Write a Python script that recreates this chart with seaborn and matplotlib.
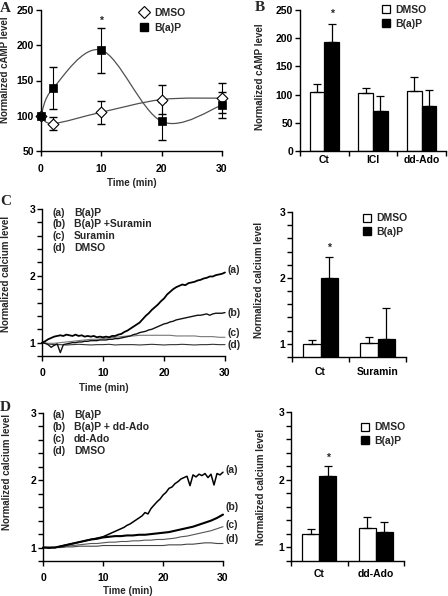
import numpy as np
import pandas as pd
import seaborn as sns
import matplotlib
matplotlib.use("Agg")
import matplotlib.pyplot as plt
from matplotlib.path import Path
from matplotlib.patches import PathPatch, Patch
from matplotlib.lines import Line2D
from matplotlib.ticker import MultipleLocator, FixedLocator, NullFormatter

# ---------------- data ----------------
# Panel A: cAMP time course
a_time = [0, 2, 10, 20, 30]
a_dmso = [100, 89, 105, 123, 125]
a_dmso_err = [0, 9, 16, 20, 21]
a_bap = [100, 139, 193, 92, 115]
a_bap_err = [0, 30, 32, 27, 18]

# Panel B: cAMP bars
b_conditions = ["Ct", "ICI", "dd-Ado"]
b_dmso = [104, 102, 107]
b_dmso_err = [15, 9, 25]
b_bap = [194, 71, 79]
b_bap_err = [31, 26, 30]

# Panel C: calcium traces
c_labels = ["B(a)P", "B(a)P +Suramin", "Suramin", "DMSO"]
c_a = [1.00, 1.02, 1.05, 1.07, 1.09, 1.10, 1.11, 1.10, 1.12, 1.11, 1.10, 1.12, 1.10, 1.11, 1.09, 1.10,
       1.09, 1.10, 1.08, 1.09, 1.08, 1.09, 1.08, 1.10, 1.10, 1.12, 1.13, 1.16, 1.18, 1.21, 1.24, 1.27,
       1.30, 1.35, 1.40, 1.44, 1.49, 1.53, 1.57, 1.62, 1.66, 1.72, 1.76, 1.80, 1.83, 1.85, 1.87, 1.86,
       1.89, 1.90, 1.91, 1.93, 1.94, 1.96, 1.97, 1.99, 1.99, 2.01, 2.02, 2.03, 2.05]
c_b = [1.00, 0.99, 0.97, 0.93, 0.96, 0.98, 0.85, 0.97, 0.98, 0.99, 1.00, 1.00, 1.01, 1.01, 1.02, 1.02,
       1.03, 1.03, 1.03, 1.04, 1.04, 1.04, 1.05, 1.05, 1.06, 1.06, 1.07, 1.08, 1.09, 1.10, 1.12, 1.13,
       1.15, 1.16, 1.17, 1.19, 1.20, 1.22, 1.24, 1.26, 1.28, 1.29, 1.31, 1.32, 1.34, 1.35, 1.36, 1.37,
       1.38, 1.39, 1.40, 1.41, 1.41, 1.42, 1.43, 1.41, 1.43, 1.44, 1.44, 1.44, 1.45]
c_c = [1.00, 0.99, 0.99, 1.00, 1.01, 1.02, 1.03, 1.04, 1.05, 1.05, 1.06, 1.07, 1.08, 1.09, 1.10, 1.10,
       1.11, 1.11, 1.11, 1.11, 1.11, 1.11, 1.10, 1.10, 1.10, 1.10, 1.09, 1.09, 1.09, 1.08, 1.08]
c_d = [1.00, 0.98, 0.97, 0.97, 0.965, 0.97, 0.975, 0.97, 0.965, 0.97, 0.97, 0.975, 0.965, 0.97, 0.97,
       0.97, 0.965, 0.97, 0.975, 0.97, 0.965, 0.97, 0.97, 0.975, 0.97, 0.965, 0.97, 0.97, 0.975, 0.97, 0.97]

# Panel C right: calcium bars
c_conditions = ["Ct", "Suramin"]
c_bar_dmso = [1.00, 1.02]
c_bar_dmso_err = [0.06, 0.08]
c_bar_bap = [2.00, 1.08]
c_bar_bap_err = [0.31, 0.47]

# Panel D: calcium traces
d_labels = ["B(a)P", "B(a)P + dd-Ado", "dd-Ado", "DMSO"]
d_a = [1.00, 1.00, 0.99, 1.00, 1.00, 1.01, 1.02, 1.03, 1.04, 1.05, 1.06, 1.07, 1.08, 1.09, 1.10, 1.11,
       1.12, 1.13, 1.14, 1.15, 1.16, 1.18, 1.20, 1.22, 1.24, 1.26, 1.28, 1.30, 1.33, 1.35, 1.38, 1.41,
       1.44, 1.47, 1.52, 1.50, 1.58, 1.63, 1.68, 1.72, 1.78, 1.82, 1.88, 1.90, 1.95, 1.98, 2.02, 2.04,
       2.06, 1.92, 2.08, 2.05, 2.09, 2.07, 2.10, 2.04, 2.09, 1.93, 2.10, 2.08, 2.12]
d_b = [1.00, 1.00, 1.00, 1.02, 1.04, 1.06, 1.08, 1.10, 1.12, 1.13, 1.15, 1.16, 1.17, 1.17, 1.18, 1.18,
       1.19, 1.19, 1.20, 1.21, 1.22, 1.23, 1.25, 1.27, 1.29, 1.31, 1.34, 1.37, 1.40, 1.44, 1.49]
d_c = [1.00, 1.00, 1.00, 1.01, 1.02, 1.03, 1.04, 1.05, 1.06, 1.06, 1.07, 1.08, 1.08, 1.09, 1.09, 1.10,
       1.10, 1.11, 1.11, 1.12, 1.12, 1.13, 1.14, 1.16, 1.17, 1.19, 1.21, 1.23, 1.25, 1.28, 1.31]
d_d = [1.00, 1.00, 1.00, 1.00, 1.01, 1.01, 1.02, 1.02, 1.02, 1.02, 1.03, 1.03, 1.03, 1.03, 1.03, 1.03,
       1.03, 1.03, 1.03, 1.03, 1.03, 1.04, 1.04, 1.04, 1.05, 1.05, 1.06, 1.07, 1.07, 1.06, 1.06]

# Panel D right: calcium bars
d_conditions = ["Ct", "dd-Ado"]
d_bar_dmso = [1.20, 1.29]
d_bar_dmso_err = [0.07, 0.16]
d_bar_bap = [2.05, 1.23]
d_bar_bap_err = [0.15, 0.15]

t_fine = np.arange(len(c_a)) * 0.5
t_coarse = np.arange(len(c_c)) * 1.0

# ---------------- style ----------------
sns.set_theme(style="ticks")
plt.rcParams["font.family"] = ["Liberation Sans", "DejaVu Sans"]
plt.rcParams["font.weight"] = "bold"
plt.rcParams["axes.labelweight"] = "bold"
plt.rcParams["axes.linewidth"] = 1.0
plt.rcParams["xtick.major.width"] = 1.0
plt.rcParams["ytick.major.width"] = 1.0
plt.rcParams["ytick.minor.width"] = 1.0
plt.rcParams["xtick.color"] = "black"
plt.rcParams["ytick.color"] = "black"
plt.rcParams["axes.edgecolor"] = "black"

FS = 7.5   # tick labels / legends
LFS = 7    # axis labels
fig = plt.figure(figsize=(4.48, 5.96), dpi=100)
W, H = 448.0, 596.0


def add_ax(l, t, r, b):
    return fig.add_axes([l / W, 1 - b / H, (r - l) / W, (b - t) / H])


def style_axes(ax):
    sns.despine(ax=ax)
    ax.tick_params(axis="both", which="both", direction="out", labelsize=FS, colors="black")
    ax.tick_params(axis="y", which="major", length=3.5, pad=1.5)
    ax.tick_params(axis="y", which="minor", length=3.5)
    for lab in ax.get_xticklabels() + ax.get_yticklabels():
        lab.set_fontweight("bold")


def smooth_path(xs, ys):
    pts = np.column_stack([xs, ys]).astype(float)
    n = len(pts)
    verts = [pts[0]]
    codes = [Path.MOVETO]
    for i in range(n - 1):
        p0 = pts[i - 1] if i > 0 else pts[i]
        p1 = pts[i]
        p2 = pts[i + 1]
        p3 = pts[i + 2] if i + 2 < n else pts[i + 1]
        c1 = p1 + (p2 - p0) / 6.0
        c2 = p2 - (p3 - p1) / 6.0
        verts += [c1, c2, p2]
        codes += [Path.CURVE4] * 3
    return Path(verts, codes)


# ---------------- Panel A ----------------
axA = add_ax(41, 10, 222, 151)
for ys in (a_dmso, a_bap):
    axA.add_patch(PathPatch(smooth_path(a_time, ys), facecolor="none", edgecolor="#505050", lw=0.9))
axA.errorbar(a_time, a_dmso, yerr=a_dmso_err, fmt="none", ecolor="black", elinewidth=0.8, capsize=3, clip_on=False)
axA.errorbar(a_time, a_bap, yerr=a_bap_err, fmt="none", ecolor="black", elinewidth=0.8, capsize=3, clip_on=False)
sns.scatterplot(x=a_time, y=a_dmso, ax=axA, marker="D", s=30, facecolor="white", edgecolor="black",
                linewidth=0.8, zorder=5, clip_on=False)
sns.scatterplot(x=a_time, y=a_bap, ax=axA, marker="s", s=30, color="black", edgecolor="black",
                linewidth=0.5, zorder=6, clip_on=False)
axA.set_xlim(0, 30)
axA.set_ylim(50, 250)
axA.set_xticks([0, 10, 20, 30])
axA.set_yticks([50, 100, 150, 200, 250])
style_axes(axA)
axA.tick_params(axis="x", length=3.5, pad=6)
axA.set_xlabel("Time (min)", fontsize=LFS, fontweight="bold")
axA.set_ylabel("Normalized cAMP level", fontsize=LFS, fontweight="bold")
axA.xaxis.set_label_coords(0.5, -0.19)
axA.yaxis.set_label_coords(-0.17, 0.58)
axA.text(10, 235, "*", ha="center", va="center", fontsize=FS, fontweight="bold")
hA = [Line2D([], [], marker="D", ls="none", mfc="white", mec="black", ms=6, mew=0.8),
      Line2D([], [], marker="s", ls="none", mfc="black", mec="black", ms=5.5)]
axA.legend(hA, ["DMSO", "B(a)P"], loc="upper left", bbox_to_anchor=(0.54, 1.015), frameon=False,
           fontsize=FS, handlelength=1.0, handletextpad=0.5, labelspacing=0.45, borderaxespad=0, borderpad=0)


# ---------------- bar helper ----------------
def bar_panel(ax, conds, dmso, dmso_err, bap, bap_err):
    df = pd.DataFrame({
        "cond": conds * 2,
        "val": list(dmso) + list(bap),
        "treat": ["DMSO"] * len(conds) + ["B(a)P"] * len(conds),
    })
    sns.barplot(data=df, x="cond", y="val", hue="treat", order=conds, hue_order=["DMSO", "B(a)P"],
                palette={"DMSO": "white", "B(a)P": "black"}, edgecolor="black", linewidth=0.9,
                width=0.6, errorbar=None, legend=False, ax=ax)
    for cont, errs in zip(ax.containers, (dmso_err, bap_err)):
        for bar, e in zip(cont, errs):
            xc = bar.get_x() + bar.get_width() / 2
            top = bar.get_y() + bar.get_height()
            ax.errorbar([xc], [top], yerr=[[0], [e]], fmt="none", ecolor="black", elinewidth=0.9,
                        capsize=3, capthick=0.9)
    n = len(conds)
    ax.set_xlim(-0.5, n - 0.5)
    ax.xaxis.set_major_locator(FixedLocator(np.arange(n + 1) - 0.5))
    ax.xaxis.set_major_formatter(NullFormatter())
    ax.xaxis.set_minor_locator(FixedLocator(np.arange(n)))
    ax.set_xticks(np.arange(n), labels=conds, minor=True)
    ax.set_xlabel("")
    style_axes(ax)
    ax.tick_params(axis="x", which="major", length=3.5)
    ax.tick_params(axis="x", which="minor", length=0)
    for lab in ax.get_xticklabels(minor=True):
        lab.set_fontweight("bold")
        lab.set_fontsize(FS)
    legh = [Patch(facecolor="white", edgecolor="black", lw=0.9), Patch(facecolor="black", edgecolor="black")]
    return legh


# ---------------- Panel B ----------------
axB = add_ax(300, 10, 446, 151)
hB = bar_panel(axB, b_conditions, b_dmso, b_dmso_err, b_bap, b_bap_err)
axB.set_ylim(0, 250)
axB.set_yticks([0, 50, 100, 150, 200, 250])
axB.tick_params(axis="x", which="minor", pad=3)
axB.set_ylabel("Normalized cAMP level", fontsize=LFS, fontweight="bold")
axB.yaxis.set_label_coords(-0.24, 0.53)
axB.text(0 + 0.15, 243, "*", ha="center", va="center", fontsize=FS, fontweight="bold")
axB.legend(hB, ["DMSO", "B(a)P"], loc="upper left", bbox_to_anchor=(0.56, 1.035), frameon=False,
           fontsize=FS, handlelength=0.8, handleheight=0.8, handletextpad=0.5, labelspacing=0.35,
           borderaxespad=0, borderpad=0)


# ---------------- trace helper ----------------
def trace_panel(ax, traces, letters, labels, label_y, legend_x, legend_y):
    for (tt, vals, col, lw) in traces:
        sns.lineplot(x=tt, y=vals, ax=ax, color=col, lw=lw, estimator=None, sort=False, clip_on=False)
    ax.set_xlim(0, 30)
    ax.set_ylim(0.8, 3)
    ax.set_xticks([0, 10, 20, 30])
    ax.set_yticks([1, 2, 3])
    ax.yaxis.set_minor_locator(MultipleLocator(0.2))
    style_axes(ax)
    ax.tick_params(axis="x", length=3.5, pad=5)
    for lt, ly in zip(letters, label_y):
        ax.text(30.4, ly, lt, ha="left", va="center", fontsize=FS, fontweight="bold", clip_on=False)
    for lt, lab, yy in zip(letters, labels, legend_y):
        ax.text(legend_x[0], yy, lt, transform=ax.transAxes, ha="left", va="center", fontsize=FS,
                fontweight="bold")
        ax.text(legend_x[1], yy, lab, transform=ax.transAxes, ha="left", va="center", fontsize=FS,
                fontweight="bold")
    ax.set_xlabel("Time (min)", fontsize=LFS, fontweight="bold")
    ax.set_ylabel("Normalized calcium level", fontsize=LFS, fontweight="bold")


letters = ["(a)", "(b)", "(c)", "(d)"]

# ---------------- Panel C ----------------
axC = add_ax(42, 209, 225, 356)
trace_panel(axC,
            [(t_coarse, c_d, "#333333", 0.8), (t_coarse, c_c, "#777777", 0.8),
             (t_fine, c_b, "#111111", 1.0), (t_fine, c_a, "black", 1.3)],
            letters, c_labels, [2.09, 1.45, 1.15, 0.96], (0.055, 0.175), [0.973, 0.898, 0.816, 0.735])
axC.xaxis.set_label_coords(0.34, -0.185)
axC.yaxis.set_label_coords(-0.17, 0.56)

axC2 = add_ax(292, 212, 406, 357)
hC = bar_panel(axC2, c_conditions, c_bar_dmso, c_bar_dmso_err, c_bar_bap, c_bar_bap_err)
axC2.set_ylim(0.8, 3)
axC2.set_yticks([1, 2, 3])
axC2.yaxis.set_minor_locator(MultipleLocator(0.2))
axC2.tick_params(axis="y", which="minor", length=3.5, width=1.0, direction="out")
axC2.tick_params(axis="x", which="minor", pad=7)
axC2.set_ylabel("Normalized calcium level", fontsize=LFS, fontweight="bold")
axC2.yaxis.set_label_coords(-0.25, 0.53)
axC2.text(0.15, 2.46, "*", ha="center", va="center", fontsize=FS, fontweight="bold")
axC2.legend(hC, ["DMSO", "B(a)P"], loc="upper left", bbox_to_anchor=(0.62, 0.99), frameon=False,
            fontsize=FS, handlelength=0.8, handleheight=0.8, handletextpad=0.5, labelspacing=0.35,
            borderaxespad=0, borderpad=0)

# ---------------- Panel D ----------------
axD = add_ax(43, 413, 223, 561)
trace_panel(axD,
            [(t_coarse, d_d, "#444444", 0.8), (t_coarse, d_c, "#555555", 0.8),
             (t_coarse, d_b, "black", 1.5), (t_fine, d_a, "black", 1.1)],
            letters, d_labels, [2.16, 1.61, 1.34, 1.13], (0.05, 0.172), [0.986, 0.905, 0.824, 0.743])
axD.xaxis.set_label_coords(0.47, -0.17)
axD.yaxis.set_label_coords(-0.175, 0.60)

axD2 = add_ax(291, 412, 404, 561)
hD = bar_panel(axD2, d_conditions, d_bar_dmso, d_bar_dmso_err, d_bar_bap, d_bar_bap_err)
axD2.set_ylim(0.8, 3)
axD2.set_yticks([1, 2, 3])
axD2.yaxis.set_minor_locator(MultipleLocator(0.2))
axD2.tick_params(axis="y", which="minor", length=3.5, width=1.0, direction="out")
axD2.tick_params(axis="x", which="minor", pad=6)
axD2.set_ylabel("Normalized calcium level", fontsize=LFS, fontweight="bold")
axD2.yaxis.set_label_coords(-0.22, 0.50)
axD2.text(0.15, 2.32, "*", ha="center", va="center", fontsize=FS, fontweight="bold")
axD2.legend(hD, ["DMSO", "B(a)P"], loc="upper left", bbox_to_anchor=(0.62, 0.93), frameon=False,
            fontsize=FS, handlelength=0.8, handleheight=0.8, handletextpad=0.5, labelspacing=0.35,
            borderaxespad=0, borderpad=0)

# ---------------- panel letters ----------------
for lt, (x, y) in {"A": (0, 2), "B": (255, 1), "C": (0, 195), "D": (0, 401)}.items():
    fig.text(x / W, 1 - y / H, lt, ha="left", va="top", fontsize=11, fontweight="bold",
             family=["Liberation Serif", "DejaVu Serif"])

fig.savefig("out.png", dpi=100)
